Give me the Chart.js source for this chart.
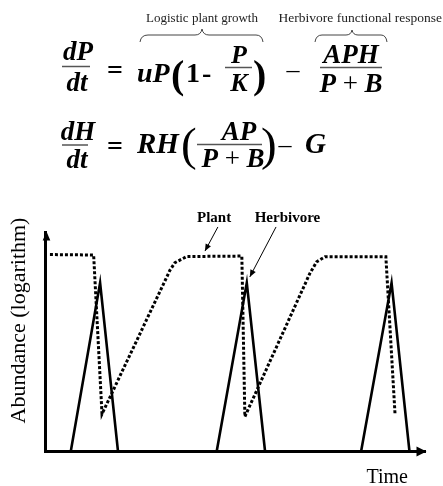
<!DOCTYPE html>
<html>
<head>
<meta charset="utf-8">
<script src="https://cdn.jsdelivr.net/npm/chart.js@4"></script>
<style>
  html, body { margin: 0; padding: 0; background: #fff; }
  #page { position: relative; width: 443px; height: 486px; }
  #grafico { position: absolute; left: 0; top: 0; }
  #eq { position: absolute; left: 0; top: 0; }
  .v { font-family: "Liberation Serif", serif; font-weight: bold; font-style: italic; }
  .r { font-family: "Liberation Serif", serif; font-weight: bold; }
  .n { font-family: "Liberation Serif", serif; }
</style>
</head>
<body>
<div id="page">
<canvas id="grafico" width="443" height="486"></canvas>
<svg id="eq" width="443" height="190" xmlns="http://www.w3.org/2000/svg">
  <text class="n" x="202" y="22" font-size="13" text-anchor="middle" fill="#222">Logistic plant growth</text>
  <text class="n" x="442" y="22" font-size="13.5" text-anchor="end" fill="#222">Herbivore functional response</text>
  <path d="M140 42 Q141 35 148 35 L195 35 Q201 35 202 29 Q203 35 209 35 L256 35 Q262 35 263 42" fill="none" stroke="#444" stroke-width="1"/>
  <path d="M315 42 Q316 35 322 35 L346 35 Q351 35 352 30 Q353 35 358 35 L381 35 Q386 35 387 42" fill="none" stroke="#444" stroke-width="1"/>

  <text class="v" x="78" y="60" font-size="27" text-anchor="middle">dP</text>
  <line x1="62" y1="66.5" x2="90" y2="66.5" stroke="#555" stroke-width="1.5"/>
  <text class="v" x="77" y="91" font-size="27" text-anchor="middle">dt</text>
  <text class="r" x="115" y="79" font-size="28" text-anchor="middle">=</text>
  <text class="v" x="137" y="82" font-size="28">uP</text>
  <text class="r" x="171" y="88" font-size="40">(</text>
  <text class="r" x="186" y="82" font-size="28">1</text>
  <text class="r" x="202" y="82" font-size="28">-</text>
  <text class="v" x="239" y="63" font-size="26" text-anchor="middle">P</text>
  <line x1="225" y1="67.5" x2="252" y2="67.5" stroke="#555" stroke-width="1.5"/>
  <text class="v" x="239" y="91" font-size="26" text-anchor="middle">K</text>
  <text class="r" x="253" y="88" font-size="40">)</text>
  <text class="n" x="293" y="78" font-size="26" text-anchor="middle">–</text>
  <text class="v" x="351" y="63" font-size="27" text-anchor="middle">APH</text>
  <line x1="320" y1="67.5" x2="382" y2="67.5" stroke="#555" stroke-width="1.5"/>
  <text class="v" x="351" y="92" font-size="27" text-anchor="middle">P<tspan class="n" font-weight="normal" font-style="normal"> + </tspan>B</text>

  <text class="v" x="78" y="140" font-size="27" text-anchor="middle">dH</text>
  <line x1="62" y1="145" x2="88" y2="145" stroke="#555" stroke-width="1.5"/>
  <text class="v" x="77" y="168" font-size="27" text-anchor="middle">dt</text>
  <text class="r" x="115" y="155" font-size="28" text-anchor="middle">=</text>
  <text class="v" x="137" y="153" font-size="29">RH</text>
  <text class="n" x="181" y="160" font-size="47">(</text>
  <text class="v" x="239" y="140" font-size="27" text-anchor="middle">AP</text>
  <line x1="197" y1="144.5" x2="262" y2="144.5" stroke="#555" stroke-width="1.5"/>
  <text class="v" x="233" y="167" font-size="27" text-anchor="middle">P<tspan class="n" font-weight="normal" font-style="normal"> + </tspan>B</text>
  <text class="n" x="261" y="160" font-size="47">)</text>
  <text class="n" x="285" y="153" font-size="26" text-anchor="middle">–</text>
  <text class="v" x="305" y="153" font-size="29">G</text>
</svg>
</div>
<script>
// time and abundance (log), axes run 0..100
const plantTime = [1.3, 12.8, 15.0, 32.9, 34.2, 37.3, 51.8, 52.6, 69.7, 71.5, 73.7, 89.7, 92.1];
const plantAbundance = [89.7, 89.5, 16.9, 82.6, 86.0, 88.8, 89.0, 15.7, 81.1, 86.4, 88.7, 88.7, 17.2];

const herbivoreTime = [6.8, 14.5, 19.2, 19.2, 45.2, 53.1, 57.9, 57.9, 83.2, 91.2, 95.9];
const herbivoreAbundance = [0, 76.8, 0, null, 0, 76.8, 0, null, 0, 76.8, 0];

const seriesNames = ["Plant", "Herbivore"];
const axisTitles = ["Abundance (logarithm)", "Time"];

function pontos(xs, ys) {
    return xs.map((x, i) => ({ x: x, y: ys[i] }));
}

// label text, label anchor, arrow start, arrow tip (in axis units)
const rotulos = [
    { texto: seriesNames[0], lx: 44.5, ly: 104.5, x1: 45.5, y1: 102.3, x2: 42.1, y2: 91.3 },
    { texto: seriesNames[1], lx: 63.8, ly: 104.5, x1: 60.8, y1: 102.3, x2: 53.9, y2: 79.5 },
];

function seta(ctx, x1, y1, x2, y2, comp, larg) {
    const ang = Math.atan2(y2 - y1, x2 - x1);
    ctx.beginPath();
    ctx.moveTo(x2, y2);
    ctx.lineTo(x2 - comp * Math.cos(ang) + larg * Math.sin(ang), y2 - comp * Math.sin(ang) - larg * Math.cos(ang));
    ctx.lineTo(x2 - comp * Math.cos(ang) - larg * Math.sin(ang), y2 - comp * Math.sin(ang) + larg * Math.cos(ang));
    ctx.closePath();
    ctx.fill();
}

const extras = {
    id: "extras",
    afterDraw(chart) {
        const { ctx, chartArea, scales } = chart;
        const { left, right, top, bottom } = chartArea;
        ctx.save();
        ctx.fillStyle = "#000";
        ctx.strokeStyle = "#000";

        // axis arrow heads
        seta(ctx, left + 1.5, top + 8, left + 1.5, top - 0.5, 9, 3.8);
        seta(ctx, right - 8, bottom + 0.5, right + 1.5, bottom + 0.5, 10, 5);

        // axis titles
        ctx.font = '22px "Liberation Serif"';
        ctx.textAlign = "center";
        ctx.textBaseline = "middle";
        ctx.save();
        ctx.translate(left - 26, top + 88.5);
        ctx.rotate(-Math.PI / 2);
        ctx.fillText(axisTitles[0], 0, 0);
        ctx.restore();
        ctx.font = '20px "Liberation Serif"';
        ctx.textAlign = "right";
        ctx.textBaseline = "alphabetic";
        ctx.fillText(axisTitles[1], right - 17, bottom + 32);

        // series labels with pointers
        ctx.font = 'bold 15px "Liberation Serif"';
        ctx.textAlign = "center";
        ctx.lineWidth = 1;
        rotulos.forEach((r) => {
            ctx.fillText(r.texto, scales.x.getPixelForValue(r.lx), scales.y.getPixelForValue(r.ly));
            const ax = scales.x.getPixelForValue(r.x1), ay = scales.y.getPixelForValue(r.y1);
            const bx = scales.x.getPixelForValue(r.x2), by = scales.y.getPixelForValue(r.y2);
            ctx.beginPath();
            ctx.moveTo(ax, ay);
            ctx.lineTo(bx, by);
            ctx.stroke();
            seta(ctx, ax, ay, bx, by, 7, 3);
        });
        ctx.restore();
    },
};

function generateChart() {
    const info = {
        datasets: [
            {
                label: seriesNames[0],
                data: pontos(plantTime, plantAbundance),
                borderColor: "#000",
                borderWidth: 3,
                borderDash: [3, 2],
                pointRadius: 0,
                tension: 0,
            },
            {
                label: seriesNames[1],
                data: pontos(herbivoreTime, herbivoreAbundance),
                borderColor: "#000",
                borderWidth: 2.6,
                pointRadius: 0,
                tension: 0,
                spanGaps: false,
            },
        ],
    };
    const options = {
        responsive: false,
        animation: false,
        devicePixelRatio: 1,
        layout: { padding: { left: 45, right: 18, top: 232, bottom: 35 } },
        scales: {
            x: {
                type: "linear",
                min: 0,
                max: 100,
                ticks: { display: false },
                grid: { display: false, drawTicks: false },
                border: { display: true, width: 3, color: "#000" },
            },
            y: {
                type: "linear",
                min: 0,
                max: 100,
                ticks: { display: false },
                grid: { display: false, drawTicks: false },
                border: { display: true, width: 3, color: "#000" },
            },
        },
        plugins: {
            legend: { display: false },
            tooltip: { enabled: false },
        },
    };
    const config = {
        type: "line",
        data: info,
        options,
        plugins: [extras],
    };
    const meuGrafico = new Chart(document.getElementById("grafico"), config);
}
generateChart();
</script>
</body>
</html>
